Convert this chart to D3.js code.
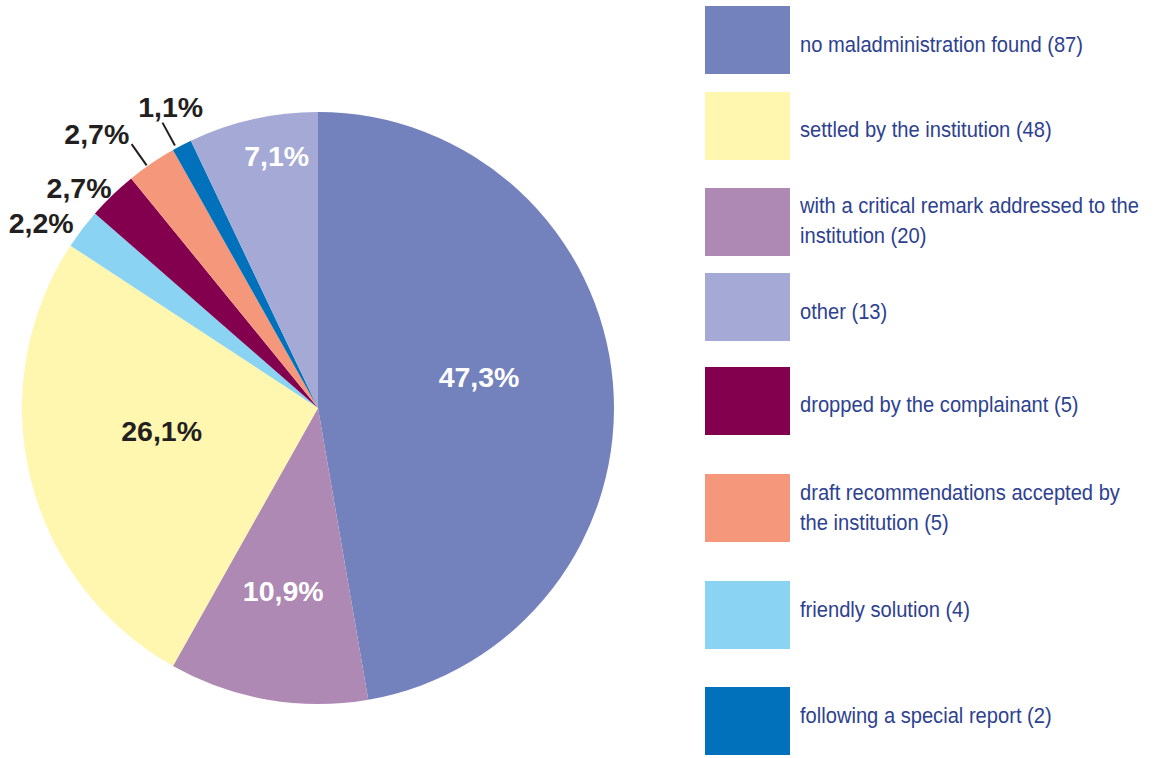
<!DOCTYPE html>
<html>
<head>
<meta charset="utf-8">
<script src="https://cdn.jsdelivr.net/npm/d3@7"></script>
<style>
  html, body { margin: 0; padding: 0; background: #fff; }
  svg { display: block; }
</style>
</head>
<body>
<svg id="chart" width="1157" height="758"></svg>
<script>
// Outcome of closed inquiries, in drawing order (clockwise from 12 o'clock)
const categories = [
  "no maladministration found",
  "with a critical remark addressed to the institution",
  "settled by the institution",
  "friendly solution",
  "dropped by the complainant",
  "draft recommendations accepted by the institution",
  "following a special report",
  "other"
];
const counts = [87, 20, 48, 4, 5, 5, 2, 13];
const percentLabels = ["47,3%", "10,9%", "26,1%", "2,2%", "2,7%", "2,7%", "1,1%", "7,1%"];
const colors = ["#7381bd", "#ad89b3", "#fff6b0", "#8ad3f3", "#82004e", "#f4977a", "#0071ba", "#a5a9d5"];

// Legend order and wrapped label lines
const legendOrder = [0, 2, 1, 7, 4, 5, 3, 6];
const legendLines = [
  ["no maladministration found (87)"],
  ["settled by the institution (48)"],
  ["with a critical remark addressed to the", "institution (20)"],
  ["other (13)"],
  ["dropped by the complainant (5)"],
  ["draft recommendations accepted by", "the institution (5)"],
  ["friendly solution (4)"],
  ["following a special report (2)"]
];

// ---- layout ----
const svg = d3.select("#chart");
const cx = 318, cy = 408, R = 296;
const deg = Math.PI / 180;

// label placement per slice: radius and angular nudge (degrees), text colour, leader line
const labelLayout = [
  { r: 164, shift: -6,   fill: "#fff" },
  { r: 186, shift: 1,    fill: "#fff" },
  { r: 158, shift: 5.5,  fill: "#231f20" },
  { r: 333, shift: -3.4, fill: "#231f20" },
  { r: 325, shift: -3.3, fill: "#231f20" },
  { r: 352, shift: -4.7, fill: "#231f20", leader: [297, 323, -1] },
  { r: 335, shift: 1.3,  fill: "#231f20", leader: [299, 325, -1.2] },
  { r: 255, shift: 3.4,  fill: "#fff" }
];

const pie = d3.pie().sort(null).value(d => d)(counts);
const arc = d3.arc().innerRadius(0).outerRadius(R);

const g = svg.append("g").attr("transform", `translate(${cx},${cy})`);

g.selectAll("path.slice")
  .data(pie)
  .join("path")
  .attr("class", "slice")
  .attr("d", arc)
  .attr("fill", (d, i) => colors[i]);

function polar(r, a) {
  return [Math.sin(a) * r, -Math.cos(a) * r];
}

// leader lines for the thin slices
pie.forEach((d, i) => {
  const L = labelLayout[i].leader;
  if (!L) return;
  const mid = (d.startAngle + d.endAngle) / 2 + L[2] * deg;
  const p0 = polar(L[0], mid), p1 = polar(L[1], mid);
  g.append("line")
    .attr("x1", p0[0]).attr("y1", p0[1])
    .attr("x2", p1[0]).attr("y2", p1[1])
    .attr("stroke", "#231f20").attr("stroke-width", 2);
});

g.selectAll("text.pct")
  .data(pie)
  .join("text")
  .attr("class", "pct")
  .attr("transform", (d, i) => {
    const lay = labelLayout[i];
    const la = d3.arc().innerRadius(lay.r).outerRadius(lay.r);
    const c = la.centroid({ startAngle: d.startAngle + lay.shift * deg, endAngle: d.endAngle + lay.shift * deg });
    return `translate(${c[0]},${c[1]})`;
  })
  .attr("text-anchor", "middle")
  .attr("dy", "0.35em")
  .attr("font-family", "'Liberation Sans', Arial, Helvetica, sans-serif")
  .attr("font-weight", "bold")
  .attr("font-size", 28.5)
  .attr("fill", (d, i) => labelLayout[i].fill)
  .text((d, i) => percentLabels[i]);

// ---- legend ----
const legendTop = [6, 92, 188, 273, 367, 474, 581, 687];
const baselineOffset = [46, 45, 25, 46, 45, 26, 36, 36];
const swatchW = 85, swatchH = 68, legendX = 705, textX = 800, lineGap = 30;
const squeeze = 0.915; // condensed lettering

const lg = svg.append("g");
legendOrder.forEach((idx, row) => {
  const y = legendTop[row];
  lg.append("rect")
    .attr("x", legendX).attr("y", y)
    .attr("width", swatchW).attr("height", swatchH)
    .attr("fill", colors[idx]);
  const t = lg.append("text")
    .attr("transform", `translate(${textX},${y + baselineOffset[row]}) scale(${squeeze},1)`)
    .attr("font-family", "'Liberation Sans', Arial, sans-serif")
    .attr("font-size", 22)
    .attr("fill", "#2d4190");
  legendLines[row].forEach((line, k) => {
    t.append("tspan").attr("x", 0).attr("dy", k === 0 ? 0 : lineGap).text(line);
  });
});
</script>
</body>
</html>
